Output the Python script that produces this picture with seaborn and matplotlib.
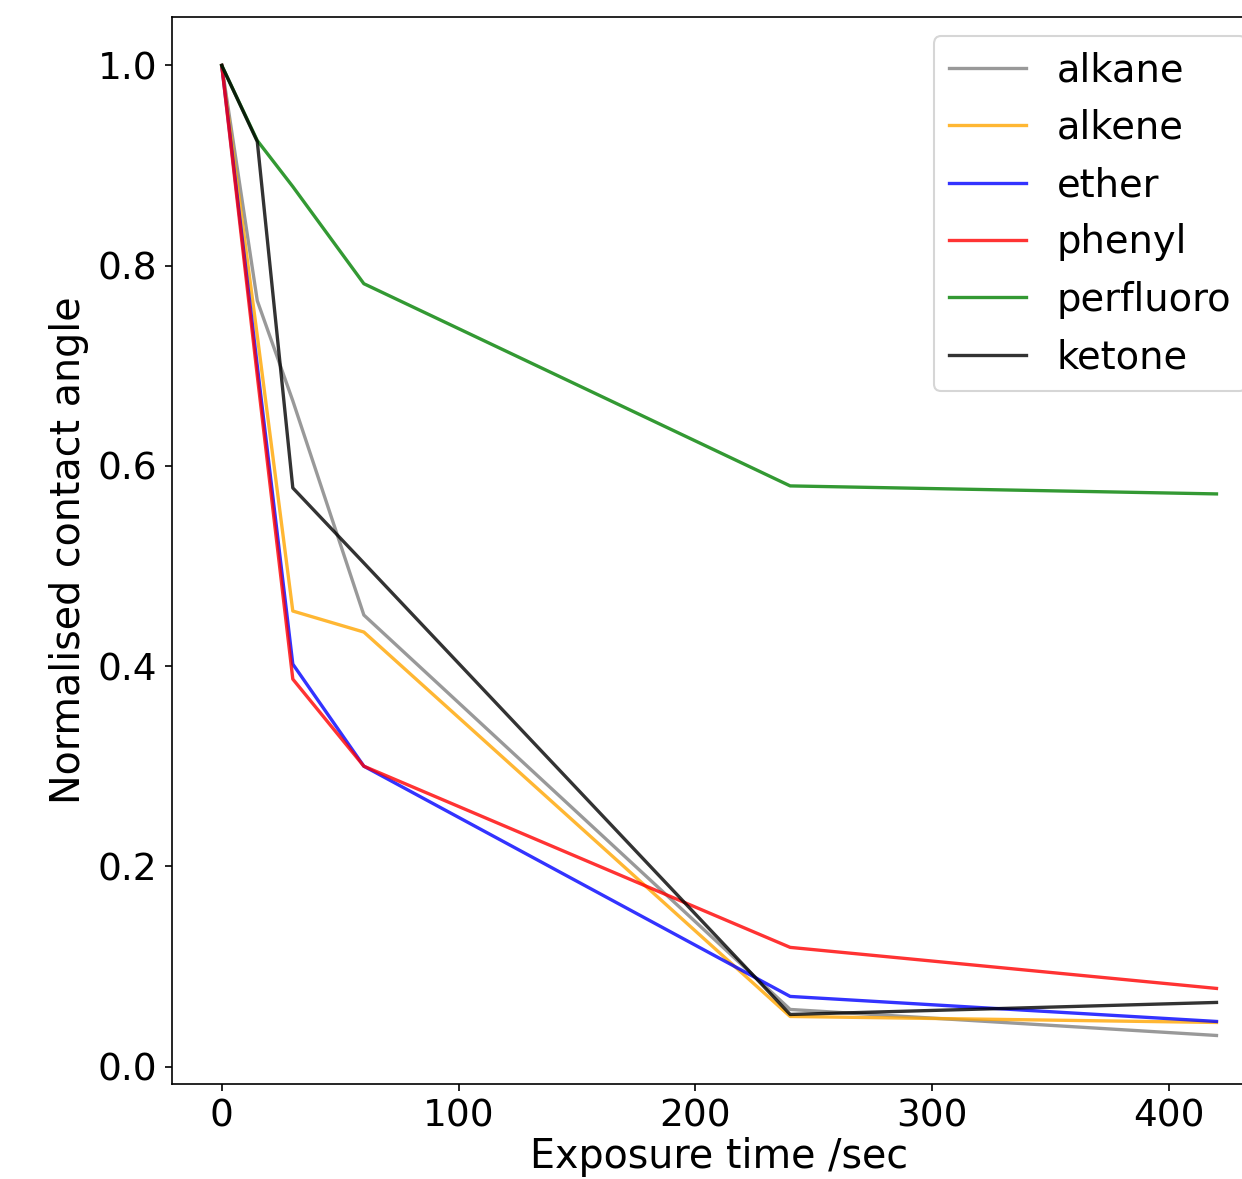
import matplotlib
matplotlib.use("Agg")
import matplotlib.pyplot as plt
import seaborn as sns

# data
times = [0, 15, 30, 60, 240, 420]
alkane = [1.0, 0.765, 0.665, 0.451, 0.057, 0.031]
alkene = [1.0, 0.73, 0.455, 0.434, 0.050, 0.044]
ether = [1.0, 0.70, 0.402, 0.300, 0.070, 0.045]
phenyl = [1.0, 0.69, 0.387, 0.300, 0.119, 0.078]
perfluoro = [1.0, 0.925, 0.879, 0.782, 0.580, 0.572]
ketone = [1.0, 0.924, 0.578, 0.503, 0.052, 0.064]

names = ['alkane', 'alkene', 'ether', 'phenyl', 'perfluoro', 'ketone']
colours = ['grey', 'orange', 'blue', 'red', 'green', 'black']
series = [alkane, alkene, ether, phenyl, perfluoro, ketone]

plt.rcParams['font.family'] = ['DejaVu Sans']
plt.rcParams['font.size'] = 18

fig = plt.figure(figsize=(8.28, 7.86), dpi=150)
# axes run a little past the right edge like the cropped original
ax = fig.add_axes([0.1385, 0.0806, 0.881, 0.905])

for name, col, vals in zip(names, colours, series):
    sns.lineplot(x=times, y=vals, color=col, alpha=0.8, linewidth=1.6,
                 label=name, ax=ax)

ax.set_xlabel('Exposure time /sec', fontsize=19, labelpad=1)
ax.set_ylabel('Normalised contact angle', fontsize=19)
ax.set_xticks([0, 100, 200, 300, 400])
ax.set_yticks([0.0, 0.2, 0.4, 0.6, 0.8, 1.0])
ax.legend(loc='upper right', fontsize=18.5)

fig.savefig('out.png', dpi=150)
